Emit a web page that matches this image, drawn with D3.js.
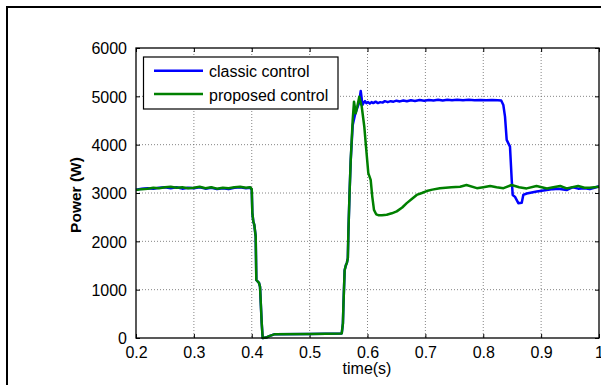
<!DOCTYPE html>
<html>
<head>
<meta charset="utf-8">
<script src="https://cdn.jsdelivr.net/npm/d3@7"></script>
<style>
html,body{margin:0;padding:0;background:#fff;}
svg{display:block;font-family:"Liberation Sans",Arial,sans-serif;}
</style>
</head>
<body>
<svg id="chart" width="601" height="385"></svg>
<script>
// ---- data ----
const xTicks = [0.2, 0.3, 0.4, 0.5, 0.6, 0.7, 0.8, 0.9, 1];
const yTicks = [0, 1000, 2000, 3000, 4000, 5000, 6000];
const seriesNames = ["classic control", "proposed control"];
const seriesColors = ["#0000ff", "#008000"];

const classicT = [0.200,0.210,0.220,0.230,0.240,0.250,0.260,0.270,0.280,0.290,0.300,0.310,0.320,0.330,0.340,0.350,0.360,0.370,0.380,0.390,0.397,0.400,
  0.401,0.4027,0.4044,0.4068,0.4079,0.4095,0.4125,0.4143,0.4172,0.4189,0.425,0.430,0.440,0.500,0.5555,
  0.5575,0.5585,0.5605,0.5625,0.5645,0.5660,0.5670,0.5690,0.5710,0.5744,0.5780,0.5820,0.5850,0.5870,0.5883,0.5900,0.5910,0.5935,0.5957,
  0.598,0.601,0.604,0.607,0.610,0.614,0.618,0.622,0.626,0.630,0.635,0.640,0.645,0.650,0.656,0.662,0.668,0.675,0.682,0.690,0.698,0.706,0.714,0.722,0.730,0.738,0.746,0.755,0.765,0.775,0.785,0.795,0.805,0.815,0.825,0.831,
  0.8347,0.8376,0.8405,0.8462,0.8492,0.8509,0.8549,0.8606,0.8665,0.8692,0.8751,0.8924,0.9097,0.920,0.930,0.944,0.955,0.964,0.975,0.984,0.992,1.000];
const classicP = [3070,3090,3100,3090,3110,3120,3100,3120,3090,3110,3100,3120,3090,3110,3080,3100,3080,3110,3120,3100,3110,3070,
  2590,2410,2340,2100,1200,1180,1140,1060,310,0,10,40,80,85,95,
  300,720,1400,1500,1560,1650,2200,3000,3680,4400,4600,4750,4850,5000,5110,4950,4820,4870,4900,
  4860,4880,4850,4880,4860,4890,4860,4880,4870,4900,4880,4900,4890,4910,4895,4915,4900,4920,4905,4925,4910,4925,4915,4930,4915,4928,4918,4930,4920,4928,4920,4925,4920,4922,4920,4915,
  4820,4580,4100,3960,3270,2960,2920,2790,2800,2960,2990,3030,3060,3080,3090,3060,3120,3090,3100,3080,3110,3140];

const proposedT = [0.200,0.210,0.220,0.230,0.240,0.250,0.260,0.270,0.280,0.290,0.300,0.310,0.320,0.330,0.340,0.350,0.360,0.370,0.380,0.390,0.397,0.400,
  0.401,0.4027,0.4044,0.4068,0.4079,0.4095,0.4125,0.4143,0.4172,0.4189,0.425,0.430,0.440,0.500,0.5555,
  0.5575,0.5585,0.5605,0.5625,0.5645,0.5660,0.5670,0.5690,0.5710,0.5744,0.5767,0.5796,0.5824,0.5858,0.5900,0.5945,0.5974,0.6014,0.6055,0.6083,0.6112,0.6150,0.6187,0.6250,0.6332,0.6420,0.6505,0.6600,0.6678,0.6760,0.6850,0.6940,0.7023,0.7120,
  0.725,0.745,0.760,0.771,0.789,0.800,0.812,0.823,0.835,0.849,0.862,0.875,0.892,0.910,0.921,0.933,0.944,0.964,0.975,0.984,1.000];
const proposedP = [3060,3080,3090,3110,3100,3120,3130,3110,3120,3100,3110,3130,3100,3120,3090,3110,3100,3120,3130,3110,3120,3080,
  2590,2410,2340,2100,1200,1180,1140,1060,310,0,10,40,80,85,95,
  300,720,1400,1500,1560,1650,2200,3000,3680,4510,4890,4650,4790,4990,4790,4370,3960,3410,3270,2920,2650,2560,2540,2540,2550,2580,2620,2700,2790,2870,2960,3000,3040,3070,
  3100,3120,3130,3165,3100,3120,3145,3120,3100,3165,3120,3095,3145,3095,3120,3145,3096,3145,3110,3110,3130];

// ---- layout ----
const svg = d3.select("#chart");
const L = 136, R = 599, T = 48, B = 338;
const x = d3.scaleLinear().domain([0.2, 1]).range([L, R]);
const y = d3.scaleLinear().domain([0, 6000]).range([B, T]);

// outer figure frame
svg.append("rect").attr("x", 7).attr("y", 7).attr("width", 700).attr("height", 500)
  .attr("fill", "none").attr("stroke", "#000").attr("stroke-width", 2);

// grid
const grid = svg.append("g");
grid.selectAll(".gx").data(xTicks.slice(1, -1)).enter().append("line")
  .attr("x1", d => x(d)).attr("x2", d => x(d)).attr("y1", T).attr("y2", B)
  .attr("stroke", "#666").attr("stroke-width", 0.8).attr("stroke-dasharray", "1,2");
grid.selectAll(".gy").data(yTicks.slice(1, -1)).enter().append("line")
  .attr("y1", d => y(d)).attr("y2", d => y(d)).attr("x1", L).attr("x2", R)
  .attr("stroke", "#666").attr("stroke-width", 0.8).attr("stroke-dasharray", "1,2");

// axes (inward ticks, all four sides)
const fmtX = d => (d === 1 ? "1" : d3.format(".1f")(d));
const axB = svg.append("g").attr("transform", `translate(0,${B})`)
  .call(d3.axisBottom(x).tickValues(xTicks).tickFormat(fmtX).tickSizeInner(-4).tickSizeOuter(0).tickPadding(9));
const axT = svg.append("g").attr("transform", `translate(0,${T})`)
  .call(d3.axisTop(x).tickValues(xTicks).tickFormat("").tickSizeInner(-4).tickSizeOuter(0));
const axL = svg.append("g").attr("transform", `translate(${L},0)`)
  .call(d3.axisLeft(y).tickValues(yTicks).tickFormat(d3.format("d")).tickSizeInner(-4).tickSizeOuter(0).tickPadding(9));
const axR = svg.append("g").attr("transform", `translate(${R},0)`)
  .call(d3.axisRight(y).tickValues(yTicks).tickFormat("").tickSizeInner(-4).tickSizeOuter(0));
[axB, axT, axL, axR].forEach(a => {
  a.select(".domain").remove();
  a.selectAll("line").attr("stroke", "#000");
  a.selectAll("text").attr("font-size", 16).attr("fill", "#000")
    .attr("font-family", "'Liberation Sans', Arial, sans-serif");
});
axB.selectAll("text").attr("dy", "0.71em");
axL.selectAll("text").attr("dy", "0.36em");

// series lines
const lineGen = d3.line().x(d => x(d[0])).y(d => y(d[1]));
const series = [d3.zip(classicT, classicP), d3.zip(proposedT, proposedP)];
series.forEach((s, i) => {
  svg.append("path").datum(s).attr("d", lineGen)
    .attr("fill", "none").attr("stroke", seriesColors[i]).attr("stroke-width", 2.5)
    .attr("stroke-linejoin", "round");
});

// plot box
svg.append("rect").attr("x", L).attr("y", T).attr("width", R - L).attr("height", B - T)
  .attr("fill", "none").attr("stroke", "#000").attr("stroke-width", 1.3);

// legend
const lg = svg.append("g");
lg.append("rect").attr("x", 143.5).attr("y", 57).attr("width", 194.5).attr("height", 52)
  .attr("fill", "#fff").attr("stroke", "#000").attr("stroke-width", 1.2);
seriesNames.forEach((n, i) => {
  const yy = 70.7 + i * 23.3;
  lg.append("line").attr("x1", 154).attr("x2", 203).attr("y1", yy).attr("y2", yy)
    .attr("stroke", seriesColors[i]).attr("stroke-width", 2.5);
  lg.append("text").attr("x", 209).attr("y", yy + 6.5).attr("font-size", 16).attr("fill", "#000").text(n);
});

// axis labels
svg.append("text").attr("x", 367).attr("y", 374).attr("text-anchor", "middle")
  .attr("font-size", 16).attr("fill", "#000").text("time(s)");
svg.append("text").attr("transform", "translate(81,195) rotate(-90)").attr("text-anchor", "middle")
  .attr("font-size", 15.5).attr("font-weight", "bold").attr("fill", "#000").text("Power (W)");
</script>
</body>
</html>
